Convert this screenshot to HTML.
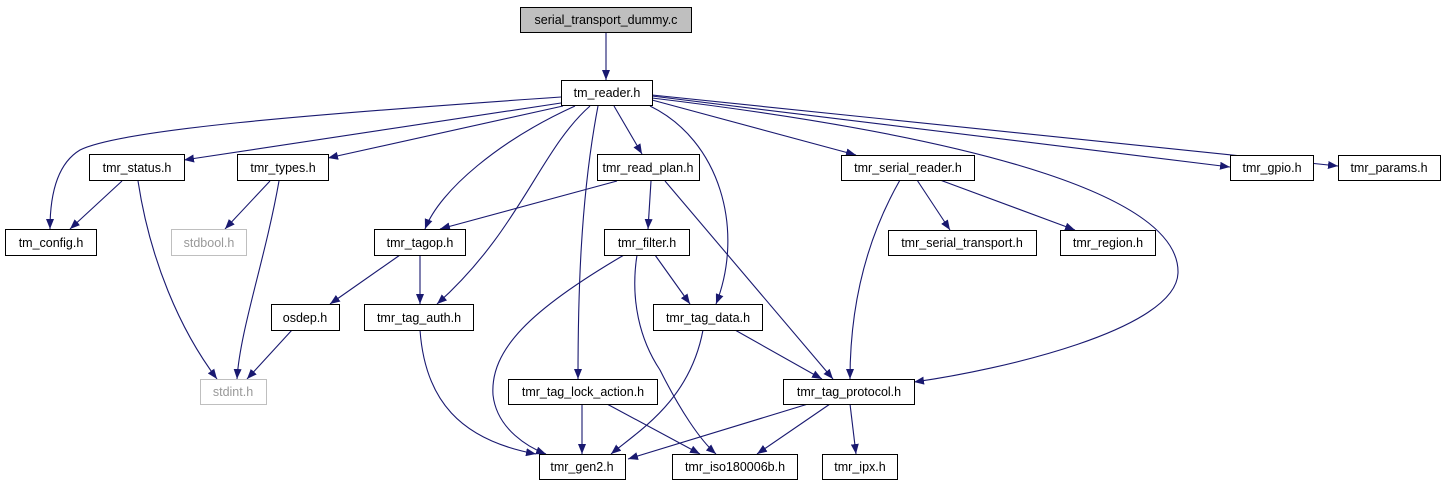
<!DOCTYPE html>
<html><head><meta charset="utf-8"><style>
html,body{margin:0;padding:0;background:#fff;}
svg text{font-family:"Liberation Sans",sans-serif;font-size:12.5px;text-anchor:middle;}
</style></head><body>
<svg width="1445" height="485" viewBox="0 0 1445 485" xmlns="http://www.w3.org/2000/svg">
<defs><marker id="a" markerWidth="10" markerHeight="8" refX="10" refY="4" orient="auto" markerUnits="userSpaceOnUse"><path d="M0,0 L10,4 L0,8 Z" fill="#191970"/></marker></defs>
<g fill="none" stroke="#191970" stroke-width="1.1" marker-end="url(#a)">
<path d="M606,32 L606,80"/>
<path d="M561,97 C300,115 120,130 80,150 C55,165 50,200 50,229"/>
<path d="M561,103 L184,160"/>
<path d="M563,106 L328,158"/>
<path d="M575,106 C500,140 440,190 425,229"/>
<path d="M590,106 C540,150 520,230 437,304"/>
<path d="M598,106 C580,200 578,300 578,379"/>
<path d="M614,106 L642,154"/>
<path d="M650,106 C720,140 745,230 716,304"/>
<path d="M652,100 L856,155"/>
<path d="M652,98 C1000,140 1180,200 1178,273 C1176,330 1000,370 914,382"/>
<path d="M652,96 L1230,167"/>
<path d="M652,95 L1338,166"/>
<path d="M122,181 L70,229"/>
<path d="M138,181 C150,260 180,330 217,379"/>
<path d="M270,181 L225,229"/>
<path d="M279,181 C265,260 240,330 237,379"/>
<path d="M617,181 L440,229"/>
<path d="M651,181 L648,229"/>
<path d="M665,181 L833,379"/>
<path d="M400,255 L330,304"/>
<path d="M420,255 L420,304"/>
<path d="M655,255 L690,304"/>
<path d="M624,255 C530,310 490,350 493,395 C497,430 530,448 546,454"/>
<path d="M637,255 C630,300 640,340 660,370 C680,410 700,440 716,454"/>
<path d="M292,330 L247,379"/>
<path d="M420,330 C425,400 460,440 536,454"/>
<path d="M703,330 C690,400 640,430 611,454"/>
<path d="M735,330 L822,379"/>
<path d="M900,180 C860,250 850,320 850,379"/>
<path d="M917,180 L950,230"/>
<path d="M940,180 L1075,230"/>
<path d="M582,404 L582,454"/>
<path d="M607,404 L700,454"/>
<path d="M808,404 L628,459"/>
<path d="M830,404 L757,454"/>
<path d="M850,404 L856,454"/>
</g>
<g stroke="#000" stroke-width="1" fill="#fff">
<rect x="520.5" y="7.5" width="171" height="25" fill="#bfbfbf"/>
<rect x="561.5" y="80.5" width="91" height="25"/>
<rect x="89.5" y="154.5" width="95" height="26"/>
<rect x="237.5" y="154.5" width="91" height="26"/>
<rect x="597.5" y="154.5" width="102" height="26"/>
<rect x="841.5" y="155.5" width="133" height="25"/>
<rect x="1230.5" y="155.5" width="83" height="25"/>
<rect x="1338.5" y="155.5" width="102" height="25"/>
<rect x="5.5" y="229.5" width="91" height="26"/>
<rect x="171.5" y="229.5" width="75" height="26" stroke="#bfbfbf"/>
<rect x="374.5" y="229.5" width="91" height="26"/>
<rect x="604.5" y="229.5" width="85" height="26"/>
<rect x="888.5" y="230.5" width="148" height="25"/>
<rect x="1060.5" y="230.5" width="95" height="25"/>
<rect x="271.5" y="304.5" width="68" height="26"/>
<rect x="364.5" y="304.5" width="109" height="26"/>
<rect x="653.5" y="304.5" width="109" height="26"/>
<rect x="200.5" y="379.5" width="66" height="25" stroke="#bfbfbf"/>
<rect x="508.5" y="379.5" width="149" height="25"/>
<rect x="783.5" y="379.5" width="131" height="25"/>
<rect x="539.5" y="454.5" width="86" height="25"/>
<rect x="672.5" y="454.5" width="125" height="25"/>
<rect x="822.5" y="454.5" width="75" height="25"/>
</g>
<g fill="#000">
<text x="606" y="24">serial_transport_dummy.c</text>
<text x="607" y="97">tm_reader.h</text>
<text x="137" y="172">tmr_status.h</text>
<text x="283" y="172">tmr_types.h</text>
<text x="648" y="172">tmr_read_plan.h</text>
<text x="908" y="172">tmr_serial_reader.h</text>
<text x="1272" y="172">tmr_gpio.h</text>
<text x="1389" y="172">tmr_params.h</text>
<text x="51" y="247">tm_config.h</text>
<text x="209" y="247" fill="#999">stdbool.h</text>
<text x="420" y="247">tmr_tagop.h</text>
<text x="647" y="247">tmr_filter.h</text>
<text x="962" y="247">tmr_serial_transport.h</text>
<text x="1108" y="247">tmr_region.h</text>
<text x="305" y="322">osdep.h</text>
<text x="419" y="322">tmr_tag_auth.h</text>
<text x="708" y="322">tmr_tag_data.h</text>
<text x="233" y="396" fill="#999">stdint.h</text>
<text x="583" y="396">tmr_tag_lock_action.h</text>
<text x="849" y="396">tmr_tag_protocol.h</text>
<text x="582" y="471">tmr_gen2.h</text>
<text x="735" y="471">tmr_iso180006b.h</text>
<text x="860" y="471">tmr_ipx.h</text>
</g>
</svg>
</body></html>
